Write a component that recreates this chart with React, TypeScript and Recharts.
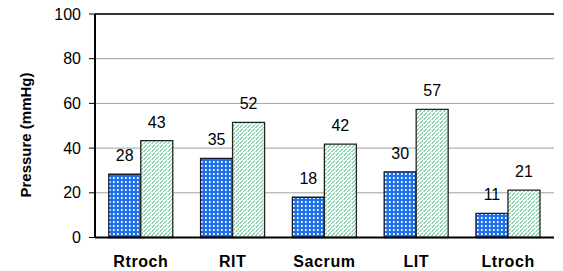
import React from 'react';
import { BarChart, Bar, XAxis, YAxis, CartesianGrid, LabelList, ReferenceLine } from 'recharts';

const categories = ['Rtroch', 'RIT', 'Sacrum', 'LIT', 'Ltroch'];
const seriesA = [28.3, 35.4, 18, 29.4, 10.8];
const seriesB = [43.3, 51.5, 41.8, 57.3, 21.2];
const labelsA = ['28', '35', '18', '30', '11'];
const labelsB = ['43', '52', '42', '57', '21'];
const yTicks = [0, 20, 40, 60, 80, 100];

const data = categories.map((c, i) => ({
  name: c,
  a: seriesA[i],
  b: seriesB[i],
  la: labelsA[i],
  lb: labelsB[i],
}));

const FONT = '"Liberation Sans", Arial, sans-serif';

const YLabel = () => (
  <text
    x={25}
    y={135}
    transform="rotate(-90 25 135)"
    textAnchor="middle"
    dominantBaseline="central"
    fontFamily={FONT}
    fontWeight="bold"
    fontSize={15}
    fill="#000"
  >
    Pressure (mmHg)
  </text>
);

export default function App() {
  return (
    <div style={{ position: 'absolute', left: 0, top: 0, width: 563, height: 271, background: '#fff' }}>
      <BarChart
        width={563}
        height={271}
        data={data}
        margin={{ top: 14, right: 9, bottom: 0, left: 0 }}
        barCategoryGap="15%"
        barGap={0}
      >
        <defs>
          <pattern id="bluePat" width="4" height="4" patternUnits="userSpaceOnUse">
            <rect x="0" y="0" width="4" height="4" fill="#1f6fe6" />
            <rect x="1" y="1" width="1.6" height="2" fill="#ffffff" />
          </pattern>
          <pattern id="greenPat" width="4" height="4" patternUnits="userSpaceOnUse">
            <rect x="0" y="0" width="4" height="4" fill="#ffffff" />
            <rect x="0" y="2" width="1" height="2" fill="#94d2b4" />
            <rect x="1" y="1" width="1" height="2" fill="#94d2b4" />
            <rect x="2" y="0" width="1" height="2" fill="#94d2b4" />
            <rect x="3" y="3" width="1" height="1" fill="#94d2b4" />
          </pattern>
        </defs>
        <CartesianGrid horizontal vertical={false} stroke="#a0a0a0" strokeWidth={1} />
        <XAxis
          dataKey="name"
          height={33.5}
          tickLine={false}
          tickSize={0}
          tickMargin={18}
          axisLine={{ stroke: '#000', strokeWidth: 2 }}
          tick={{ fontFamily: FONT, fontSize: 16, fontWeight: 'bold', fill: '#000', letterSpacing: 0.6 }}
          interval={0}
        />
        <YAxis
          domain={[0, 100]}
          ticks={yTicks}
          width={95}
          tickSize={6}
          tickMargin={8}
          tickLine={{ stroke: '#000', strokeWidth: 1 }}
          axisLine={{ stroke: '#000', strokeWidth: 2 }}
          tick={{ fontFamily: FONT, fontSize: 16, fill: '#000' }}
          label={<YLabel />}
        />
        <YAxis
          yAxisId="right"
          orientation="right"
          domain={[0, 100]}
          width={0}
          tick={false}
          tickLine={false}
          axisLine={{ stroke: '#000', strokeWidth: 1.5 }}
        />
        <ReferenceLine y={100} stroke="#000" strokeWidth={1.5} />
        <Bar dataKey="a" fill="url(#bluePat)" stroke="#1a1a2e" strokeWidth={1.3} isAnimationActive={false}>
          <LabelList dataKey="la" position="top" offset={13} style={{ fontFamily: FONT, fontSize: 16, fill: '#000' }} />
        </Bar>
        <Bar dataKey="b" fill="url(#greenPat)" stroke="#222" strokeWidth={1.3} isAnimationActive={false}>
          <LabelList dataKey="lb" position="top" offset={13} style={{ fontFamily: FONT, fontSize: 16, fill: '#000' }} />
        </Bar>
      </BarChart>
    </div>
  );
}
